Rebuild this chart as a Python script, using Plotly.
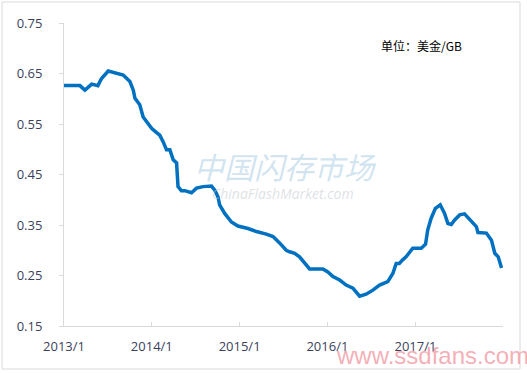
import plotly.graph_objects as go

dates = ["2013-01-01", "2013-03-08", "2013-03-29", "2013-04-26", "2013-05-22", "2013-06-06",
         "2013-07-04", "2013-07-25", "2013-08-13", "2013-09-04", "2013-10-02", "2013-10-16",
         "2013-10-23", "2013-11-12", "2013-11-26", "2013-12-17", "2014-01-01", "2014-01-21",
         "2014-02-03", "2014-02-17", "2014-03-03", "2014-03-17", "2014-03-31", "2014-04-14",
         "2014-04-20", "2014-05-04", "2014-05-18", "2014-06-15", "2014-07-06", "2014-08-02",
         "2014-09-06", "2014-09-20", "2014-10-03", "2014-10-10", "2014-10-31", "2014-11-28",
         "2014-12-25", "2015-02-05", "2015-03-12", "2015-04-22", "2015-05-20", "2015-06-17",
         "2015-07-14", "2015-07-28", "2015-08-18", "2015-09-07", "2015-09-21", "2015-10-19",
         "2015-12-13", "2016-01-03", "2016-01-24", "2016-02-21", "2016-03-19", "2016-04-16",
         "2016-05-14", "2016-06-10", "2016-07-08", "2016-08-05", "2016-09-08", "2016-09-29",
         "2016-10-13", "2016-10-26", "2016-11-09", "2016-11-23", "2016-12-21", "2017-01-25",
         "2017-02-12", "2017-02-21", "2017-03-07", "2017-03-25", "2017-04-14", "2017-05-02",
         "2017-05-16", "2017-05-30", "2017-06-13", "2017-07-04", "2017-07-24", "2017-08-21",
         "2017-09-11", "2017-09-18", "2017-10-23", "2017-11-13", "2017-11-27", "2017-12-11",
         "2017-12-25"]
prices = [0.626, 0.626, 0.617, 0.629, 0.626, 0.640,
          0.655, 0.652, 0.651, 0.647, 0.634, 0.617,
          0.601, 0.588, 0.564, 0.551, 0.541, 0.533,
          0.528, 0.515, 0.499, 0.499, 0.479, 0.473,
          0.426, 0.418, 0.418, 0.414, 0.423, 0.426,
          0.427, 0.419, 0.406, 0.390, 0.373, 0.356,
          0.348, 0.343, 0.337, 0.332, 0.327, 0.314,
          0.300, 0.297, 0.294, 0.287, 0.279, 0.263,
          0.263, 0.257, 0.248, 0.241, 0.231, 0.225,
          0.209, 0.213, 0.221, 0.231, 0.238, 0.254,
          0.274, 0.274, 0.281, 0.287, 0.304, 0.304,
          0.312, 0.340, 0.363, 0.383, 0.390, 0.373,
          0.353, 0.351, 0.360, 0.370, 0.372, 0.357,
          0.347, 0.335, 0.334, 0.320, 0.294, 0.287,
          0.265]

x_tick_vals = ["2013-01-01", "2014-01-01", "2015-01-01", "2016-01-01", "2017-01-01"]
x_tick_text = ["2013/1", "2014/1", "2015/1", "2016/1", "2017/1"]
y_tick_vals = [0.15, 0.25, 0.35, 0.45, 0.55, 0.65, 0.75]
y_tick_text = ["0.15", "0.25", "0.35", "0.45", "0.55", "0.65", "0.75"]

tick_font = dict(family="Open Sans, Liberation Sans, sans-serif", size=13, color="#3b3f5c")

fig = go.Figure()
fig.add_trace(go.Scatter(x=dates, y=prices, mode="lines",
                         line=dict(color="#0070c0", width=3.5), hoverinfo="skip"))

W, H = 527, 373
L, R, T, B = 64, 24, 23, 47
pw, ph = W - L - R, H - T - B

def px(x):
    return (x - L) / pw

def py(y):
    return (H - B - y) / ph

fig.update_layout(
    width=W, height=H,
    margin=dict(l=L, r=R, t=T, b=B),
    paper_bgcolor="white", plot_bgcolor="white",
    showlegend=False,
    xaxis=dict(range=["2013-01-01", "2017-12-31"], tickvals=x_tick_vals, ticktext=x_tick_text,
               showgrid=False, zeroline=False, showline=True, linecolor="#d9d9d9", linewidth=1,
               ticks="inside", ticklen=4, tickcolor="#d9d9d9", tickfont=tick_font, ticklabelstandoff=8),
    yaxis=dict(range=[0.15, 0.75], tickvals=y_tick_vals, ticktext=y_tick_text,
               showgrid=False, zeroline=False, showline=True, linecolor="#d9d9d9", linewidth=1,
               ticks="outside", ticklen=4, tickcolor="#d9d9d9", tickfont=tick_font, ticklabelstandoff=14),
    shapes=[dict(type="rect", xref="paper", yref="paper",
                 x0=px(2), x1=px(520), y0=py(369), y1=py(2),
                 line=dict(color="#d9d9d9", width=1), fillcolor="rgba(0,0,0,0)", layer="below")],
    annotations=[
        dict(text="单位：美金/GB", xref="paper", yref="paper", x=px(379), y=py(45),
             xanchor="left", yanchor="middle", showarrow=False,
             font=dict(family="Noto Sans CJK SC", size=12, color="#000000")),
        dict(text="<i>中国闪存市场</i>", xref="paper", yref="paper", x=px(285), y=py(166),
             xanchor="center", yanchor="middle", showarrow=False,
             font=dict(family="Noto Sans CJK SC", size=30, color="rgba(170,205,228,0.55)")),
        dict(text="<i>ChinaFlashMarket.com</i>", xref="paper", yref="paper", x=px(283), y=py(193),
             xanchor="center", yanchor="middle", showarrow=False,
             font=dict(family="Open Sans, sans-serif", size=14, color="rgba(190,195,205,0.5)")),
        dict(text="www.ssdfans.com", xref="paper", yref="paper", x=px(432), y=py(355),
             xanchor="center", yanchor="middle", showarrow=False,
             font=dict(family="Liberation Sans, sans-serif", size=24, color="rgba(240,140,150,0.7)")),
    ],
)

fig.write_html("out.html", config={"displayModeBar": False},
               post_script="document.body.style.margin='0';document.body.style.overflow='hidden';")
